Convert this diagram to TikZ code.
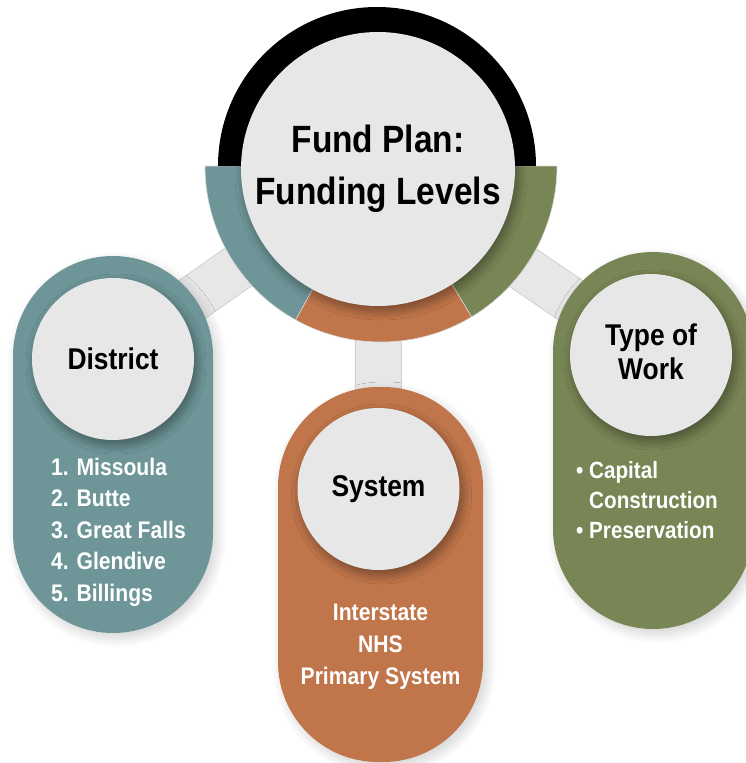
\documentclass[tikz,border=0pt]{standalone}
\usepackage{fontspec}
\setmainfont{Liberation Sans}[FakeStretch=0.88]
\usetikzlibrary{shadows.blur,backgrounds}
\definecolor{tealc}{RGB}{110,150,152}
\definecolor{orangec}{RGB}{192,117,74}
\definecolor{greenc}{RGB}{120,133,84}
\definecolor{lightc}{RGB}{231,231,231}
\begin{document}
\begin{tikzpicture}[x=1pt,y=-1pt,
  pill/.style={rectangle, rounded corners=100pt, minimum width=200pt, minimum height=377pt, inner sep=0pt,
    blur shadow={shadow xshift=4pt, shadow yshift=-5pt, shadow opacity=18, shadow blur radius=10pt, shadow blur steps=14}},
  disc/.style={circle, fill=lightc, minimum size=162pt, inner sep=0pt, align=center,
    font=\fontsize{30}{34}\selectfont\bfseries,
    blur shadow={shadow xshift=3pt, shadow yshift=-5pt, shadow opacity=40, shadow blur radius=9pt, shadow blur steps=14}},
  bar/.style={line width=47pt, draw=black!18},
  barin/.style={line width=45pt, draw=lightc},
  listtxt/.style={text=white, inner sep=0pt, font=\fontsize{24}{31.5}\selectfont\bfseries},
  seg/.style={draw=white!85!black, line width=0.6pt}
]
\useasboundingbox (0,0) rectangle (745,763);

% ring centre
\coordinate (ringc) at (381,166);
\coordinate (blackc) at (377,166);

% coloured lower half ring
\fill[tealc, seg] (ringc) -- ++(180:176) arc[start angle=180, end angle=119, radius=176] -- cycle;
\fill[orangec, seg] (ringc) -- ++(119:176) arc[start angle=119, end angle=59, radius=176] -- cycle;
\fill[greenc, seg] (ringc) -- ++(59:176) arc[start angle=59, end angle=0, radius=176] -- cycle;
% black upper half ring
\fill[black] (blackc) -- ++(180:159) arc[start angle=180, end angle=360, radius=159] -- cycle;

% central circle
\node[circle, fill=lightc, minimum size=274pt, inner sep=0pt, align=center,
  font=\fontsize{38}{52}\selectfont\bfseries,
  blur shadow={shadow xshift=3pt, shadow yshift=-5pt, shadow opacity=40, shadow blur radius=9pt, shadow blur steps=14}]
  (main) at (378,169) {Fund Plan:\\Funding Levels};

% pills
\node[pill, fill=tealc] (dpill) at (113,444.5) {};
\node[pill, fill=orangec, minimum width=205pt, minimum height=375pt] (spill) at (380.5,574.5) {};
\node[pill, fill=greenc] (wpill) at (653,440.5) {};

% inner circles
\node[disc] (dcirc) at (113,359) {District};
\node[disc] (scirc) at (378.5,489) {System};
\node[disc] (wcirc) at (651,355) {Type of\\Work\vphantom{p}};

% connectors (behind)
\coordinate (dend) at (140,336);
\begin{scope}[on background layer]
  \draw[bar] (main.center) -- (dend);
  \draw[barin] (main.center) -- (dend);
  \draw[bar] (main.center) -- (scirc.center);
  \draw[barin] (main.center) -- (scirc.center);
  \draw[bar] (main.center) -- (wcirc.center);
  \draw[barin] (main.center) -- (wcirc.center);
\end{scope}

% lists
\node[listtxt, anchor=west, align=left] (dlist) at (51,532)
  {1. Missoula\\2. Butte\\3. Great Falls\\4. Glendive\\5. Billings};
\node[listtxt, align=center, font=\fontsize{24}{32}\selectfont\bfseries] (slist) at (380.5,647)
  {Interstate\\NHS\\Primary System};
\node[listtxt, anchor=west, align=left, font=\fontsize{23.5}{30}\selectfont\bfseries] (wlist) at (576,500)
  {• Capital\\\phantom{• }Construction\\• Preservation};
\end{tikzpicture}
\end{document}
